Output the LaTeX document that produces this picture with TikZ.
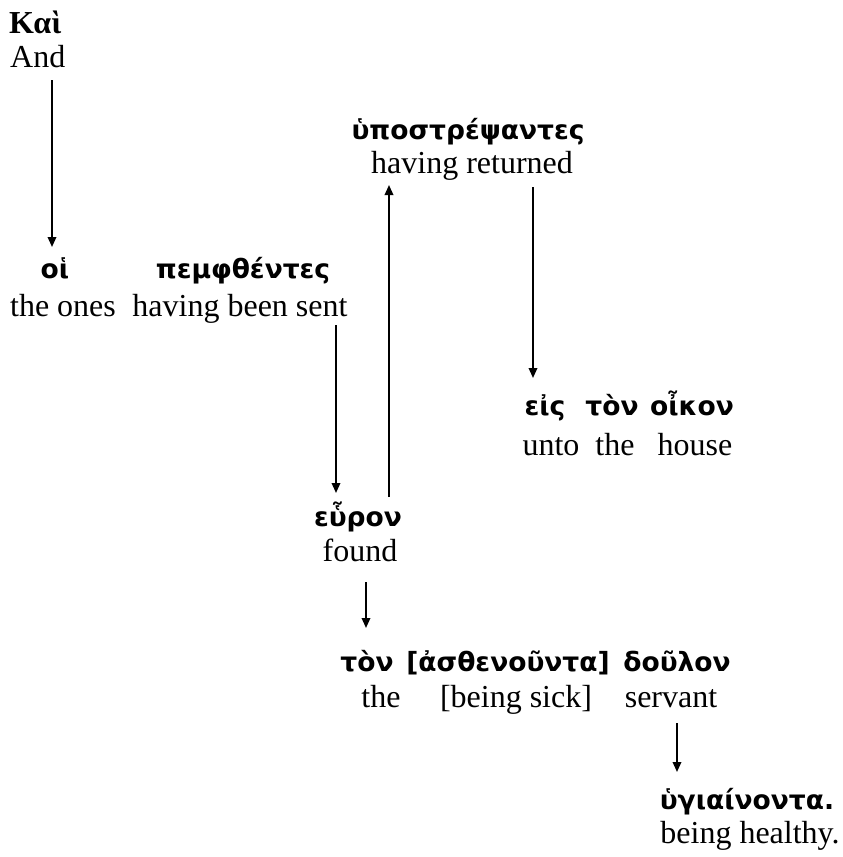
\documentclass[tikz,border=0pt]{standalone}
\usepackage{fontspec}
\setmainfont{Liberation Serif}
\newfontfamily\grkfont{DejaVu Sans}
\usetikzlibrary{arrows.meta}
\newcommand{\gk}[1]{{\grkfont\bfseries #1}}
\begin{document}
\begin{tikzpicture}[x=1pt,y=-1pt,
  gw/.style={anchor=base,inner sep=0pt,font=\fontsize{26.5}{32}\selectfont},
  ew/.style={anchor=base,inner sep=0pt,font=\fontsize{32}{38}\selectfont},
  arr/.style={line width=1.8pt,-{Triangle[length=10pt,width=8.5pt]}}]
\useasboundingbox (0,0) rectangle (843,857);
% first word
\node[ew,anchor=base west] (kai) at (9,33) {\textbf{Καὶ}};
\node[ew,anchor=base west] (and) at (10,67) {And};
% row 2
\node[gw] (hoi) at (55,278) {\gk{οἱ}};
\node[ew] (theones) at (63,316) {the ones};
\node[gw] (pemf) at (243,278) {\gk{πεμφθέντες}};
\node[ew] (sent) at (240,316) {having been sent};
% top
\node[gw] (hypo) at (468,139) {\gk{ὑποστρέψαντες}};
\node[ew] (ret) at (472,173) {having returned};
% eis ton oikon
\node[gw] (eis) at (545,415) {\gk{εἰς}};
\node[ew] (unto) at (551,455) {unto};
\node[gw] (ton1) at (612,415) {\gk{τὸν}};
\node[ew] (the1) at (615,455) {the};
\node[gw] (oikon) at (692,415) {\gk{οἶκον}};
\node[ew] (house) at (695,455) {house};
% heuron
\node[gw] (heuron) at (358,526) {\gk{εὗρον}};
\node[ew] (found) at (360,561) {found};
% ton asthenounta doulon
\node[gw] (ton2) at (367,671) {\gk{τὸν}};
\node[ew] (the2) at (381,707) {the};
\node[gw] (asth) at (508,671) {\gk{[ἀσθενοῦντα]}};
\node[ew] (sick) at (516,707) {[being sick]};
\node[gw] (doulon) at (677,671) {\gk{δοῦλον}};
\node[ew] (servant) at (671,707) {servant};
% hygiainonta
\node[gw] (hyg) at (747,809) {\gk{ὑγιαίνοντα.}};
\node[ew] (healthy) at (750,843) {being healthy.};
% arrow end points
\coordinate (a1s) at (52,80);  \coordinate (a1e) at (52,247);
\coordinate (a2s) at (336,325); \coordinate (a2e) at (336,493);
\coordinate (a3s) at (389,497); \coordinate (a3e) at (389,185);
\coordinate (a4s) at (533,187); \coordinate (a4e) at (533,378);
\coordinate (a5s) at (366,582); \coordinate (a5e) at (366,628);
\coordinate (a6s) at (677,723); \coordinate (a6e) at (677,772);
\draw[arr] (a1s) -- (a1e);
\draw[arr] (a2s) -- (a2e);
\draw[arr] (a3s) -- (a3e);
\draw[arr] (a4s) -- (a4e);
\draw[arr] (a5s) -- (a5e);
\draw[arr] (a6s) -- (a6e);
\end{tikzpicture}
\end{document}
